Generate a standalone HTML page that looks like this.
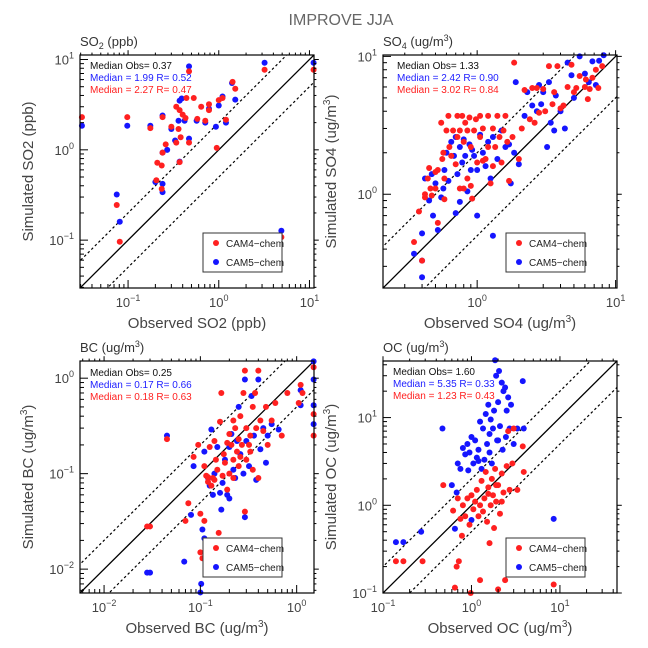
<!DOCTYPE html>
<html><head><meta charset="utf-8"><style>
body{margin:0;background:#fff;}
svg{display:block;font-family:"Liberation Sans","DejaVu Sans",sans-serif;}
</style></head><body>
<svg id="chart" width="648" height="648" viewBox="0 0 648 648" xmlns="http://www.w3.org/2000/svg">
<rect width="648" height="648" fill="#fff"/>
<text x="341" y="25" text-anchor="middle" font-size="16" fill="#666">IMPROVE JJA</text>
</svg>
<script>
// ---- data ----
const so2Red=[[0.031,2.3],[0.098,2.3],[0.176,1.74],[0.21,0.72],[0.235,0.67],[0.24,2.3],[0.24,0.93],[0.26,1.15],[0.30,1.8],[0.34,3.0],[0.34,1.2],[0.36,1.7],[0.37,2.75],[0.38,1.38],[0.37,0.73],[0.40,2.45],[0.43,2.25],[0.44,3.75],[0.47,1.2],[0.47,7.4],[0.53,3.75],[0.58,2.2],[0.64,3.0],[0.71,2.1],[0.78,3.2],[0.78,2.75],[0.95,1.05],[1.0,3.55],[1.1,3.75],[1.2,2.15],[1.42,5.65],[1.52,4.75],[3.2,7.7],[4.9,0.108],[11.1,7.7],[0.205,0.46],[0.235,0.37],[0.075,0.245],[0.081,0.096]];
const so2Blue=[[0.031,1.85],[0.098,1.85],[0.176,1.85],[0.2,0.44],[0.24,0.42],[0.24,0.34],[0.24,2.4],[0.24,0.93],[0.27,1.0],[0.30,1.7],[0.33,1.27],[0.36,2.1],[0.37,3.5],[0.39,3.7],[0.37,0.74],[0.42,2.1],[0.47,8.4],[0.47,1.33],[0.57,2.1],[0.71,2.0],[0.78,2.85],[0.93,1.8],[1.0,3.1],[1.1,3.9],[1.2,2.0],[1.4,5.5],[1.52,3.6],[3.2,9.2],[4.9,0.127],[11.1,9.2],[0.075,0.32],[0.081,0.16]];
const so4Red=[[0.35,0.45],[0.38,0.75],[0.4,0.33],[0.42,0.95],[0.42,1.0],[0.44,1.3],[0.45,1.55],[0.46,1.1],[0.47,0.98],[0.5,1.45],[0.5,1.1],[0.52,0.62],[0.52,1.5],[0.55,3.3],[0.56,1.8],[0.57,2.0],[0.58,0.92],[0.58,1.3],[0.6,2.9],[0.62,3.7],[0.63,2.2],[0.65,1.9],[0.67,2.9],[0.7,1.65],[0.72,3.7],[0.72,2.6],[0.75,2.9],[0.75,1.1],[0.78,3.7],[0.8,2.4],[0.8,1.1],[0.82,3.3],[0.85,2.9],[0.85,1.3],[0.88,3.6],[0.9,2.2],[0.9,1.15],[0.92,0.93],[0.95,2.9],[0.98,3.5],[1.0,1.7],[1.05,3.7],[1.05,2.6],[1.1,1.75],[1.1,3.0],[1.15,1.8],[1.2,3.7],[1.2,2.2],[1.25,1.2],[1.3,3.0],[1.35,2.2],[1.4,3.7],[1.45,2.6],[1.5,1.7],[1.55,2.9],[1.6,3.7],[1.65,2.4],[1.7,1.25],[1.8,2.6],[1.85,9.0],[2.0,1.8],[2.1,3.0],[2.2,5.7],[2.4,3.5],[2.5,5.9],[2.7,5.9],[2.8,3.9],[3.0,5.8],[3.1,4.0],[3.3,8.5],[3.5,4.5],[3.6,5.5],[3.8,8.5],[4.0,4.2],[4.2,4.4],[4.5,6.0],[4.8,8.7],[5.0,5.5],[5.2,5.9],[5.5,7.2],[6.0,6.0],[6.1,6.8],[6.3,4.9],[6.5,5.8],[6.8,7.0],[7.2,8.0],[7.5,5.9],[8.0,8.5],[2.6,3.3],[1.3,1.6]];
const so4Blue=[[0.35,0.37],[0.4,0.33],[0.4,0.25],[0.4,0.52],[0.42,1.3],[0.45,0.9],[0.47,1.4],[0.48,0.7],[0.5,1.2],[0.52,0.55],[0.55,0.95],[0.57,1.1],[0.58,1.5],[0.6,2.0],[0.62,1.25],[0.65,2.4],[0.68,1.9],[0.7,2.6],[0.7,0.73],[0.72,1.4],[0.75,2.2],[0.75,0.88],[0.78,1.7],[0.8,2.5],[0.82,1.9],[0.85,1.05],[0.88,2.3],[0.9,1.5],[0.92,2.1],[0.95,1.9],[1.0,1.5],[1.0,0.7],[1.05,2.7],[1.1,2.0],[1.15,1.6],[1.2,2.4],[1.25,1.3],[1.3,2.6],[1.3,0.5],[1.4,1.8],[1.5,2.9],[1.6,2.2],[1.7,2.3],[1.75,1.2],[1.85,2.0],[1.9,6.5],[2.0,1.65],[2.3,5.5],[2.5,4.4],[2.7,4.0],[2.8,6.2],[2.9,4.5],[3.0,5.5],[3.2,2.2],[3.3,6.5],[3.4,3.3],[3.6,2.9],[3.7,5.2],[4.0,4.0],[4.3,3.0],[4.5,9.0],[4.8,7.3],[5.0,5.0],[5.5,10],[6.0,7.5],[6.4,6.5],[6.8,9.2],[7.2,6.2],[7.6,9.3],[8.2,10.2],[2.2,3.7]];
const bcRed=[[0.028,0.028],[0.03,0.028],[0.045,0.23],[0.075,0.049],[0.07,0.032],[0.085,0.15],[0.095,0.2],[0.1,0.038],[0.1,0.015],[0.105,0.013],[0.11,0.032],[0.11,0.12],[0.115,0.095],[0.12,0.082],[0.125,0.19],[0.13,0.075],[0.135,0.09],[0.14,0.22],[0.145,0.14],[0.15,0.11],[0.155,0.024],[0.16,0.35],[0.165,0.7],[0.17,0.095],[0.175,0.16],[0.18,0.13],[0.19,0.068],[0.2,0.26],[0.2,0.1],[0.21,0.2],[0.22,0.36],[0.22,0.14],[0.23,0.3],[0.24,0.17],[0.25,0.12],[0.25,0.23],[0.26,0.4],[0.27,0.2],[0.28,0.7],[0.29,1.2],[0.29,0.04],[0.3,0.3],[0.3,0.14],[0.32,0.2],[0.33,0.25],[0.35,0.5],[0.35,0.11],[0.37,0.7],[0.38,0.3],[0.4,1.2],[0.4,0.09],[0.42,0.36],[0.45,0.28],[0.48,0.5],[0.5,0.2],[0.55,0.36],[0.6,0.55],[0.62,0.015],[0.7,0.25],[0.8,0.7],[1.05,0.55],[1.1,0.85],[1.15,0.7],[1.5,1.3],[1.5,0.42],[1.5,0.25],[0.12,0.092],[0.14,0.086],[0.22,0.09],[0.26,0.15],[0.19,0.21],[0.33,0.17]];
const bcBlue=[[0.028,0.0092],[0.03,0.0092],[0.045,0.25],[0.068,0.012],[0.08,0.037],[0.085,0.12],[0.1,0.0057],[0.102,0.007],[0.105,0.026],[0.11,0.021],[0.11,0.17],[0.12,0.09],[0.125,0.075],[0.13,0.29],[0.135,0.06],[0.14,0.1],[0.15,0.19],[0.16,0.063],[0.165,0.042],[0.17,0.08],[0.18,0.14],[0.19,0.06],[0.2,0.055],[0.2,0.19],[0.21,0.26],[0.22,0.11],[0.23,0.09],[0.24,0.22],[0.26,0.16],[0.28,0.1],[0.29,0.035],[0.29,0.97],[0.3,0.22],[0.32,0.12],[0.34,0.65],[0.36,0.25],[0.38,0.086],[0.4,0.97],[0.42,0.18],[0.45,0.3],[0.48,0.13],[0.5,0.25],[0.55,0.33],[0.62,0.01],[0.65,0.29],[1.1,0.75],[1.1,0.52],[1.5,0.97],[1.5,1.5],[1.5,0.52],[1.5,0.33],[0.25,0.5]];
const ocRed=[[0.14,0.23],[0.17,0.23],[0.28,0.23],[0.48,1.7],[0.62,0.87],[0.65,0.115],[0.68,0.2],[0.7,1.2],[0.72,0.23],[0.75,0.7],[0.78,0.45],[0.8,1.0],[0.85,0.75],[0.9,1.2],[0.95,0.6],[0.98,0.1],[1.0,1.3],[1.05,0.9],[1.1,1.1],[1.15,1.5],[1.2,0.75],[1.25,0.14],[1.25,1.0],[1.3,1.9],[1.35,0.85],[1.4,1.2],[1.45,2.4],[1.5,0.65],[1.55,1.6],[1.6,0.37],[1.65,1.0],[1.7,2.0],[1.75,1.3],[1.8,0.55],[1.85,2.6],[1.9,1.1],[2.0,0.11],[2.0,1.7],[2.1,0.8],[2.2,2.3],[2.3,1.4],[2.4,0.14],[2.5,2.8],[2.6,7.0],[2.7,1.5],[2.9,3.0],[3.0,7.5],[3.3,1.5],[3.8,4.7],[3.9,2.4],[8.5,0.125],[1.9,1.7],[1.55,1.35],[2.2,1.1]];
const ocBlue=[[0.14,0.38],[0.17,0.38],[0.27,0.5],[0.47,7.5],[0.6,1.7],[0.65,0.54],[0.68,1.4],[0.7,3.0],[0.75,2.6],[0.8,4.5],[0.85,3.8],[0.9,5.0],[0.92,2.5],[0.95,4.0],[1.0,6.0],[1.0,0.68],[1.05,3.0],[1.1,5.5],[1.15,3.5],[1.2,4.3],[1.25,9.0],[1.3,2.6],[1.35,7.5],[1.4,3.3],[1.45,11],[1.5,5.0],[1.55,14],[1.6,4.0],[1.65,9.5],[1.7,3.0],[1.75,7.5],[1.8,12],[1.85,45],[1.9,30],[1.95,5.5],[2.0,15],[2.05,34],[2.1,8],[2.2,25],[2.25,4.3],[2.3,20],[2.4,22],[2.45,6],[2.5,12],[2.6,17],[2.7,7.5],[2.8,14],[3.0,5],[3.3,7.5],[3.8,26],[3.9,7.5],[8.5,0.7],[1.6,6.5],[2.0,5.5],[1.2,3.2]];
const medianObs=["0.37","1.33","0.25","1.60"];
const medianCam5=["1.99","2.42","0.17","5.35"];
const rCam5=["0.52","0.90","0.66","0.33"];
const medianCam4=["2.27","3.02","0.18","1.23"];
const rCam4=["0.47","0.84","0.63","0.43"];

const NS="http://www.w3.org/2000/svg";
const svg=document.getElementById('chart');
function mk(tag,attrs,parent){const e=document.createElementNS(NS,tag);for(const k in attrs)e.setAttribute(k,attrs[k]);(parent||svg).appendChild(e);return e;}

const panels=[
 {key:'so2',fx:80,fy:55,fw:234,fh:233,lo:-1.53,hi:1.05,head:['SO','2',' (ppb)'],xt:'Observed SO2 (ppb)',yt:'Simulated SO2 (ppb)',red:so2Red,blue:so2Blue,mx:90,my:69,sup:false},
 {key:'so4',fx:383,fy:55,fw:234,fh:233,lo:-0.68,hi:1.01,head:['SO','4',' (ug/m',''],xt:'Observed SO4 (ug/m',yt:'Simulated SO4 (ug/m',red:so4Red,blue:so4Blue,mx:397,my:69,sup:true},
 {key:'bc',fx:80,fy:361,fw:234,fh:232,lo:-2.25,hi:0.18,head:['BC (ug/m'],xt:'Observed BC (ug/m',yt:'Simulated BC (ug/m',red:bcRed,blue:bcBlue,mx:90,my:376,sup:true},
 {key:'oc',fx:383,fy:361,fw:234,fh:232,lo:-1,hi:1.645,head:['OC (ug/m'],xt:'Observed OC (ug/m',yt:'Simulated OC (ug/m',red:ocRed,blue:ocBlue,mx:393,my:375,sup:true}
];

panels.forEach((p,i)=>{
 const g=mk('g',{});
 
 
 const X=v=>p.fx+(Math.log10(v)-p.lo)/(p.hi-p.lo)*p.fw;
 const Y=v=>p.fy+p.fh-(Math.log10(v)-p.lo)/(p.hi-p.lo)*p.fh;
 const clip=mk('clipPath',{id:'c'+i},g);
 mk('rect',{x:p.fx,y:p.fy,width:p.fw,height:p.fh},clip);
 // lines
 const lg=mk('g',{'clip-path':'url(#c'+i+')'},g);
 const a=Math.pow(10,p.lo-0.5),b=Math.pow(10,p.hi+0.5);
 const l1=mk('line',{x1:X(a),y1:Y(a),x2:X(b),y2:Y(b),stroke:'#000','stroke-width':1.3},lg);
 
 
 const l2=mk('line',{x1:X(a),y1:Y(2*a),x2:X(b),y2:Y(2*b),stroke:'#000','stroke-width':1.2,'stroke-dasharray':'2.5,2.5'},lg);
 
 
 const l3=mk('line',{x1:X(a),y1:Y(a/2),x2:X(b),y2:Y(b/2),stroke:'#000','stroke-width':1.2,'stroke-dasharray':'2.5,2.5'},lg);
 
 
 // points
 p.blue.forEach(d=>{const c=mk('circle',{cx:X(d[0]),cy:Y(d[1]),r:3,fill:'#1515ff'},g);
  
  });
 p.red.forEach(d=>{const c=mk('circle',{cx:X(d[0]),cy:Y(d[1]),r:3,fill:'#ff2020'},g);
  
  });
 // frame
 const fr=mk('rect',{x:p.fx,y:p.fy,width:p.fw,height:p.fh,fill:'none',stroke:'#000','stroke-width':1.2},g);
 
 
 // ticks
 for(let e=Math.floor(p.lo);e<=Math.ceil(p.hi);e++){
  for(let m=1;m<10;m++){
   const v=m*Math.pow(10,e);const L=Math.log10(v);
   if(L<p.lo-1e-6||L>p.hi+1e-6)continue;
   const len=m===1?8:4;
   const x=X(v),y=Y(v);
   mk('line',{x1:x,y1:p.fy+p.fh,x2:x,y2:p.fy+p.fh-len,stroke:'#000','stroke-width':1},g);
   mk('line',{x1:x,y1:p.fy,x2:x,y2:p.fy-len*0.6,stroke:'#000','stroke-width':1},g);
   mk('line',{x1:p.fx,y1:y,x2:p.fx+len,y2:y,stroke:'#000','stroke-width':1},g);
   mk('line',{x1:p.fx+p.fw,y1:y,x2:p.fx+p.fw+len*0.6,y2:y,stroke:'#000','stroke-width':1},g);
   if(m===1){
    const tx=mk('text',{x:x,y:p.fy+p.fh+19,'text-anchor':'middle','font-size':13,fill:'#444'},g);
    
    
    tx.innerHTML='10<tspan font-size="9" dy="-6">'+(e<0?'\u2212'+(-e):e)+'</tspan>';
    const ty=mk('text',{x:p.fx-6,y:y+5,'text-anchor':'end','font-size':13,fill:'#444'},g);
    
    
    ty.innerHTML='10<tspan font-size="9" dy="-6">'+(e<0?'\u2212'+(-e):e)+'</tspan>';
   }
  }
 }
 // heading
 const h=mk('text',{x:p.fx,y:p.fy-9,'font-size':13,fill:'#333'},g);
 
 
 if(p.key==='so2')h.innerHTML='SO<tspan font-size="9" dy="3">2</tspan><tspan dy="-3"> (ppb)</tspan>';
 else if(p.key==='so4')h.innerHTML='SO<tspan font-size="9" dy="3">4</tspan><tspan dy="-3"> (ug/m</tspan><tspan font-size="9" dy="-5">3</tspan><tspan dy="5">)</tspan>';
 else h.innerHTML=p.head[0]+'<tspan font-size="9" dy="-5">3</tspan><tspan dy="5">)</tspan>';
 // axis titles
 const cx=p.fx+p.fw/2, cy=p.fy+p.fh/2;
 const xt=mk('text',{x:cx,y:p.fy+p.fh+40,'text-anchor':'middle','font-size':15,fill:'#444'},g);
 
 
 xt.innerHTML=p.sup?p.xt+'<tspan font-size="10" dy="-6">3</tspan><tspan dy="6">)</tspan>':p.xt;
 const yx=p.fx-47;
 const yt=mk('text',{x:yx,y:cy,'text-anchor':'middle','font-size':15,fill:'#444',transform:'rotate(-90 '+yx+' '+cy+')'},g);
 
 
 yt.innerHTML=p.sup?p.yt+'<tspan font-size="10" dy="-6">3</tspan><tspan dy="6">)</tspan>':p.yt;
 // median text
 const m1=mk('text',{x:p.mx,y:p.my,'font-size':10,fill:'#111'},g);
 
 
 m1.textContent='Median Obs= '+medianObs[i];
 const m2=mk('text',{x:p.mx,y:p.my+12,'font-size':10,fill:'#2020ff'},g);
 
 
 m2.textContent='Median = '+medianCam5[i]+' R= '+rCam5[i];
 const m3=mk('text',{x:p.mx,y:p.my+24,'font-size':10,fill:'#ff2020'},g);
 
 
 m3.textContent='Median = '+medianCam4[i]+' R= '+rCam4[i];
 // legend
 const lx=p.fx+p.fw-111, ly=p.fy+p.fh-55;
 const leg=mk('g',{},g);
 
 
 mk('rect',{x:lx,y:ly,width:79,height:39,fill:'#fff',stroke:'#333','stroke-width':1},leg);
 mk('circle',{cx:lx+13,cy:ly+10,r:3,fill:'#ff2020'},leg);
 const t1=mk('text',{x:lx+23,y:ly+14,'font-size':10,fill:'#222'},leg);
 
 
 t1.textContent='CAM4\u2212chem';
 mk('circle',{cx:lx+13,cy:ly+29,r:3,fill:'#1515ff'},leg);
 const t2=mk('text',{x:lx+23,y:ly+33,'font-size':10,fill:'#222'},leg);
 
 
 t2.textContent='CAM5\u2212chem';
});
</script>
</body></html>
